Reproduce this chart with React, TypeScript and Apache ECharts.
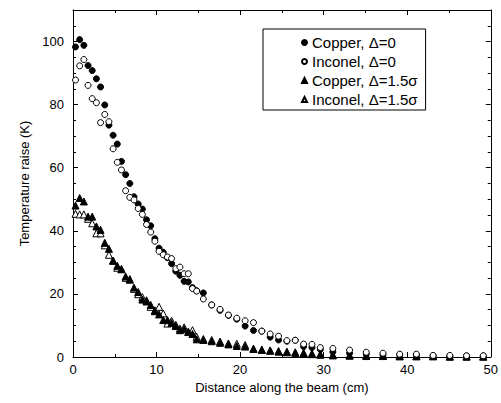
import React, { useEffect, useRef } from "react";
import * as echarts from "echarts";

const distance = [
  0.3, 0.8, 1.3, 1.8, 2.3, 2.8, 3.3, 3.8, 4.3, 4.8, 5.3, 5.8, 6.3, 6.8, 7.3, 7.8, 8.3, 8.8, 9.3, 9.8,
  10.3, 10.8, 11.3, 11.8, 12.3, 12.8, 13.3, 13.8, 14.3, 14.8, 15.6, 16.6, 17.6, 18.6, 19.6, 20.6, 21.6,
  22.6, 23.6, 24.6, 25.6, 26.6, 27.6, 28.6, 29.6, 31.1, 33.1, 35.1, 37.1, 39.1, 41.1, 43.1, 45.1, 47.1, 49.1,
];

const copper0 = [
  98.3, 100.6, 98.8, 92.4, 90.8, 88.2, 85.6, 79.9, 73.5, 70.3, 67.5, 62.0, 57.8, 55.0, 50.8, 48.5, 46.9, 43.5, 41.6, 37.5,
  34.5, 33.2, 31.5, 29.6, 27.2, 25.9, 24.0, 23.8, 22.0, 21.0, 20.3, 16.5, 14.8, 13.2, 12.0, 9.8, 8.4,
  8.2, 6.3, 5.4, 5.0, 5.3, 3.3, 3.0, 2.4, 1.6, 1.2, 0.9, 0.7, 0.6, 0.5, 0.4, 0.3, 0.3, 0.3,
];

const inconel0 = [
  87.8, 92.3, 94.3, 86.1, 81.9, 80.6, 74.3, 76.9, 74.6, 66.0, 61.7, 59.3, 52.7, 50.6, 49.8, 47.1, 45.2, 42.0, 39.6, 36.7,
  33.5, 32.4, 31.7, 31.2, 28.0, 28.5, 26.4, 26.4, 21.7, 20.9, 18.4, 16.5, 15.1, 13.3, 12.3, 11.5, 10.9,
  8.2, 7.3, 6.6, 5.2, 5.3, 4.1, 4.0, 3.0, 2.7, 2.2, 1.5, 1.2, 0.9, 0.9, 0.5, 0.5, 0.4, 0.4,
];

const copper15 = [
  48.0, 50.4, 49.3, 44.5, 44.5, 41.4, 40.3, 36.2, 34.3, 30.5, 28.9, 27.9, 25.5, 24.5, 22.0, 20.6, 18.2, 17.6, 16.5, 14.5,
  13.5, 11.7, 11.7, 10.8, 9.8, 8.5, 8.8, 8.0, 7.3, 5.6, 5.4, 5.0, 4.5, 4.0, 3.5, 3.3, 2.6,
  2.3, 2.0, 1.7, 1.5, 1.3, 1.1, 0.9, 0.7, 0.5, 0.4, 0.3, 0.3, 0.2, 0.2, 0.2, 0.1, 0.1, 0.1,
];

const inconel15 = [
  45.4, 45.2, 45.2, 43.8, 42.4, 39.2, 39.2, 35.4, 32.4, 30.6, 28.3, 27.8, 25.1, 24.7, 21.6, 19.9, 19.0, 18.0, 15.9, 14.8,
  15.9, 13.8, 10.6, 11.5, 10.2, 9.0, 9.4, 7.9, 8.5, 6.4, 5.7, 5.4, 4.9, 4.3, 4.2, 3.8, 2.6,
  2.3, 2.1, 1.9, 1.7, 1.5, 1.3, 1.1, 0.9, 0.7, 0.6, 0.5, 0.4, 0.3, 0.3, 0.3, 0.2, 0.2, 0.2,
];

const seriesNames = ["Copper, \u0394=0", "Inconel, \u0394=0", "Copper, \u0394=1.5\u03c3", "Inconel, \u0394=1.5\u03c3"];

const FONT = "'Liberation Sans', Arial, Helvetica, sans-serif";

function pairs(ys: number[]) {
  return distance.map((x, i) => [x, ys[i]]);
}

export default function App() {
  const ref = useRef<HTMLDivElement>(null);
  useEffect(() => {
    document.body.style.margin = "0";
    if (!ref.current) return;
    const chart = echarts.init(ref.current, null, { renderer: "svg" });
    const axisLine = { show: true, onZero: false, lineStyle: { color: "#000", width: 1 } };
    const axisTick = { show: true, inside: true, length: 5, lineStyle: { color: "#000" } };
    const splitLine = { show: false };
    const xMinor = { show: true, splitNumber: 2, length: 3, lineStyle: { color: "#000" } };
    const yMinor = { show: true, splitNumber: 4, length: 3, lineStyle: { color: "#000" } };
    const filled = { color: "#000", borderColor: "#000", borderWidth: 1, opacity: 1 };
    const open = { color: "#fff", borderColor: "#000", borderWidth: 1, opacity: 1 };
    chart.setOption({
      animation: false,
      backgroundColor: "#fff",
      textStyle: { fontFamily: FONT },
      grid: { left: 73, top: 10, right: 10, bottom: 46 },
      legend: {
        orient: "vertical",
        left: 263,
        top: 29,
        padding: [6, 8, 3, 38],
        borderColor: "#000",
        borderWidth: 1,
        itemWidth: 5,
        itemHeight: 5,
        itemGap: 4,
        textStyle: { fontFamily: FONT, fontSize: 15, color: "#000" },
        data: seriesNames,
      },
      xAxis: [
        {
          type: "value",
          min: 0,
          max: 50,
          interval: 10,
          name: "Distance along the beam (cm)",
          nameLocation: "middle",
          nameGap: 17,
          nameTextStyle: { fontFamily: FONT, fontSize: 13, color: "#000" },
          axisLabel: { fontFamily: FONT, fontSize: 13, color: "#000", margin: 6 },
          axisLine,
          axisTick,
          minorTick: xMinor,
          splitLine,
        },
        {
          type: "value",
          position: "top",
          min: 0,
          max: 50,
          interval: 10,
          axisLabel: { show: false },
          axisLine,
          axisTick,
          minorTick: xMinor,
          splitLine,
        },
      ],
      yAxis: [
        {
          type: "value",
          min: 0,
          max: 110,
          interval: 20,
          name: "Temperature raise (K)",
          nameLocation: "middle",
          nameGap: 42,
          nameTextStyle: { fontFamily: FONT, fontSize: 13, color: "#000" },
          axisLabel: { fontFamily: FONT, fontSize: 13, color: "#000", margin: 9, showMaxLabel: false },
          axisLine,
          axisTick,
          minorTick: yMinor,
          splitLine,
        },
        {
          type: "value",
          position: "right",
          min: 0,
          max: 110,
          interval: 20,
          axisLabel: { show: false },
          axisLine,
          axisTick,
          minorTick: yMinor,
          splitLine,
        },
      ],
      series: [
        {
          name: seriesNames[3],
          type: "scatter",
          symbol: "triangle",
          symbolSize: 7,
          itemStyle: open,
          data: pairs(inconel15),
        },
        {
          name: seriesNames[2],
          type: "scatter",
          symbol: "triangle",
          symbolSize: 7,
          itemStyle: filled,
          data: pairs(copper15),
        },
        {
          name: seriesNames[0],
          type: "scatter",
          symbol: "circle",
          symbolSize: 6,
          itemStyle: filled,
          data: pairs(copper0),
        },
        {
          name: seriesNames[1],
          type: "scatter",
          symbol: "circle",
          symbolSize: 6,
          itemStyle: open,
          data: pairs(inconel0),
        },
      ],
    });
    return () => chart.dispose();
  }, []);
  return <div ref={ref} style={{ width: 501, height: 403 }} />;
}
